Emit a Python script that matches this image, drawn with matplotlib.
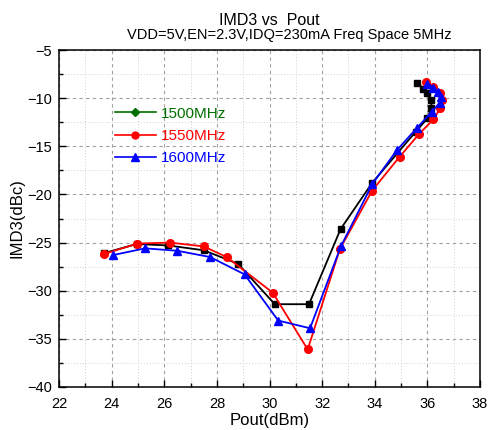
import numpy as np
from matplotlib import pyplot as plt
from matplotlib.lines import Line2D
from matplotlib.ticker import MultipleLocator

plt.rcParams['font.family'] = ['Liberation Sans', 'DejaVu Sans']

# -------------------------- data --------------------------
pout_1500 = [23.7, 24.95, 26.15, 27.5, 28.8, 30.2, 31.5, 32.7, 33.9, 35.55, 36.0, 36.15, 36.15, 36.0, 35.85, 35.6]
imd3_1500 = [-26.1, -25.15, -25.3, -25.8, -27.2, -31.4, -31.4, -23.6, -18.8, -13.5, -12.1, -11.0, -10.2, -9.5, -9.0, -8.4]

pout_1550 = [23.7, 24.98, 26.22, 27.5, 28.37, 30.12, 31.45, 32.67, 33.9, 34.94, 35.69, 36.23, 36.49, 36.57, 36.49, 36.23, 35.95]
imd3_1550 = [-26.2, -25.1, -25.0, -25.4, -26.5, -30.2, -36.1, -25.7, -19.6, -16.1, -13.7, -12.2, -11.05, -10.2, -9.5, -8.8, -8.3]

pout_1600 = [24.05, 25.27, 26.49, 27.74, 29.05, 30.33, 31.54, 32.71, 33.91, 34.84, 35.6, 36.17, 36.46, 36.51, 36.42, 36.23, 36.0]
imd3_1600 = [-26.3, -25.6, -25.85, -26.5, -28.3, -33.1, -33.9, -25.4, -18.9, -15.4, -13.1, -11.4, -10.5, -9.9, -9.4, -8.9, -8.5]

labels = ['1500MHz', '1550MHz', '1600MHz']

# -------------------------- plot --------------------------
figure = plt.figure(figsize=(4.89, 4.30), dpi=100)
ax = figure.add_axes([0.1207, 0.1, 0.861, 0.7837])

ax.plot(pout_1500, imd3_1500, color='black', marker='s', markersize=5, linewidth=1.3, zorder=3)
ax.plot(pout_1550, imd3_1550, color='#ff0000', marker='o', markersize=5.5, linewidth=1.3, zorder=4)
ax.plot(pout_1600, imd3_1600, color='#0000ff', marker='^', markersize=6, linewidth=1.3, zorder=5)

ax.set_xlim(22, 38)
ax.set_ylim(-40, -5)
ax.xaxis.set_major_locator(MultipleLocator(2))
ax.xaxis.set_minor_locator(MultipleLocator(1))
ax.yaxis.set_major_locator(MultipleLocator(5))
ax.yaxis.set_minor_locator(MultipleLocator(2.5))
ax.tick_params(which='both', direction='in', labelsize=10.5, width=1)
ax.tick_params(axis='x', which='major', pad=7)
ax.tick_params(axis='y', which='major', pad=5)
ax.tick_params(which='major', length=5)
ax.tick_params(which='minor', length=3)
for s in ax.spines.values():
    s.set_linewidth(1.1)

ax.grid(which='major', color='#a0a0a0', linestyle=(0, (3, 3)), linewidth=0.8)
ax.grid(which='minor', color='#d0d0d0', linestyle=(0, (1, 2)), linewidth=0.7)
ax.set_axisbelow(True)

ax.set_xlabel('Pout(dBm)', fontsize=12, labelpad=2)
ax.set_ylabel('IMD3(dBc)', fontsize=12, labelpad=2)

# 标题与副标题
figure.text(0.55, 0.942, 'IMD3 vs  Pout', ha='center', va='baseline', fontsize=11.5)
figure.text(0.591, 0.91, 'VDD=5V,EN=2.3V,IDQ=230mA Freq Space 5MHz', ha='center', va='baseline', fontsize=10.5)

# legend (1500MHz shown as green diamond in the original)
handles = [
    Line2D([], [], color='#007000', marker='D', markersize=4.5, linewidth=1.2),
    Line2D([], [], color='#ff0000', marker='o', markersize=5, linewidth=1.2),
    Line2D([], [], color='#0000ff', marker='^', markersize=5.5, linewidth=1.2),
]
ax.legend(handles, labels, loc='upper left', bbox_to_anchor=(0.118, 0.85), frameon=False,
          labelcolor='linecolor', fontsize=11, handlelength=2.7, handletextpad=0.3,
          labelspacing=0.55, borderaxespad=0)

figure.savefig('out.png', dpi=100)
